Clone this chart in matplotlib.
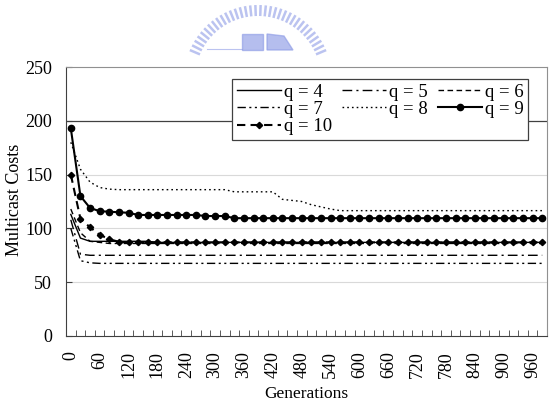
import numpy as np
import matplotlib
matplotlib.use("Agg")
import matplotlib.pyplot as plt
from matplotlib.patches import Rectangle, Polygon

plt.rcParams['font.family'] = ['Liberation Serif', 'DejaVu Serif']

generations = list(range(0, 1000, 20))
tick_labels = [str(g) if g % 60 == 0 else "" for g in generations]

q4 = [113, 91, 88, 88, 88, 88, 88, 88, 88, 87, 87, 87, 87, 87, 87, 87, 87, 87, 87, 87,
      87, 87, 87, 87, 87, 87, 87, 87, 87, 87, 87, 87, 87, 87, 87, 87, 87, 87, 87, 87,
      87, 87, 87, 87, 87, 87, 87, 87, 87, 87]
q5 = [108, 76, 75, 75, 75, 75, 75, 75, 75, 75, 75, 75, 75, 75, 75, 75, 75, 75, 75, 75,
      75, 75, 75, 75, 75, 75, 75, 75, 75, 75, 75, 75, 75, 75, 75, 75, 75, 75, 75, 75,
      75, 75, 75, 75, 75, 75, 75, 75, 75, 75]
q6 = [118, 96, 88, 87, 86, 86, 86, 86, 86, 86, 86, 86, 86, 86, 86, 86, 86, 86, 86, 86,
      86, 86, 86, 86, 86, 86, 86, 86, 86, 86, 86, 86, 86, 86, 86, 86, 86, 86, 86, 86,
      86, 86, 86, 86, 86, 86, 86, 86, 86, 86]
q7 = [100, 70, 68, 67.5, 67.5, 67.5, 67.5, 67.5, 67.5, 67.5, 67.5, 67.5, 67.5, 67.5, 67.5, 67.5, 67.5, 67.5, 67.5, 67.5,
      67.5, 67.5, 67.5, 67.5, 67.5, 67.5, 67.5, 67.5, 67.5, 67.5, 67.5, 67.5, 67.5, 67.5, 67.5, 67.5, 67.5, 67.5, 67.5, 67.5,
      67.5, 67.5, 67.5, 67.5, 67.5, 67.5, 67.5, 67.5, 67.5, 67.5]
q8 = [180, 155, 143, 138, 136.5, 136, 136, 136, 136, 136, 136, 136, 136, 136, 136, 136, 136, 134, 134, 134,
      134, 134, 127, 126, 125, 122, 120, 118, 116.5, 116.5, 116.5, 116.5, 116.5, 116.5, 116.5, 116.5, 116.5, 116.5, 116.5, 116.5,
      116.5, 116.5, 116.5, 116.5, 116.5, 116.5, 116.5, 116.5, 116.5, 116.5]
q9 = [193, 130, 119, 116, 115.5, 115, 114.5, 112.5, 112.5, 112.5, 112.5, 112.5, 112.5, 112.5, 111.5, 111.5, 111.5, 109.5, 109.5, 109.5,
      109.5, 109.5, 109.5, 109.5, 109.5, 109.5, 109.5, 109.5, 109.5, 109.5, 109.5, 109.5, 109.5, 109.5, 109.5, 109.5, 109.5, 109.5, 109.5, 109.5,
      109.5, 109.5, 109.5, 109.5, 109.5, 109.5, 109.5, 109.5, 109.5, 109.5]
q10 = [150, 109, 101, 94, 90, 87.5, 87, 87, 87, 87, 87, 87, 87, 87, 87, 87, 87, 87, 87, 87,
       87, 87, 87, 87, 87, 87, 87, 87, 87, 87, 87, 87, 87, 87, 87, 87, 87, 87, 87, 87,
       87, 87, 87, 87, 87, 87, 87, 87, 87, 87]

fig = plt.figure(figsize=(5.49, 4.16), dpi=100)
ax = fig.add_axes([66/549, 80/416, 481/549, 269/416])

x = np.arange(len(generations))

# gridlines
for yv in [50, 100, 150]:
    ax.axhline(yv, color='#d9d9d9', lw=0.8, zorder=0)
ax.axhline(200, color='#404040', lw=0.9, zorder=0)

h4, = ax.plot(x, q4, color='black', lw=1.0, ls='-', label='q = 4')
h5, = ax.plot(x, q5, color='black', lw=1.0, ls=(0, (7, 3, 1.5, 3)), label='q = 5')
h6, = ax.plot(x, q6, color='black', lw=1.0, ls=(0, (4, 2.5)), label='q = 6')
h7, = ax.plot(x, q7, color='black', lw=1.0, ls=(0, (6, 2.5, 1.5, 2.5, 1.5, 2.5)), label='q = 7')
h8, = ax.plot(x, q8, color='black', lw=1.0, ls=(0, (1.2, 2.2)), label='q = 8')
h9, = ax.plot(x, q9, color='black', lw=1.5, ls='-', marker='o', ms=4.5, label='q = 9')
h10, = ax.plot(x, q10, color='black', lw=1.5, ls=(0, (4, 2.5)), marker='D', ms=3.2, label='q = 10')

ax.set_xlim(-0.5, len(generations) - 0.5)
ax.set_ylim(0, 250)
ax.set_yticks([0, 50, 100, 150, 200, 250])
ax.tick_params(axis='y', direction='in', length=4, labelsize=13, pad=10, color='#404040')

ax.set_xticks(x)
ax.set_xticklabels(tick_labels, rotation=90, fontsize=13)
ax.tick_params(axis='x', which='major', length=0, pad=11)
ax.set_xticks(np.arange(-0.5, len(generations) + 0.5, 1), minor=True)
ax.tick_params(axis='x', which='minor', direction='in', length=4, color='#404040')

for side in ['top', 'right']:
    ax.spines[side].set_color('#909090')
for side in ['left', 'bottom']:
    ax.spines[side].set_color('#404040')

fig.text(306.5 / 549, 1 - 394 / 416, 'Generations', fontsize=12.5, ha='center', va='center')
fig.text(15 / 549, 1 - 200 / 416, 'Multicast Costs', fontsize=13, ha='center', va='center',
         rotation=90)

handles = [h4, h7, h10, h5, h8, h6, h9]
leg = ax.legend(handles=handles, ncol=3, loc='upper left', bbox_to_anchor=(0.345, 0.955),
                borderaxespad=0, fontsize=13.5, frameon=True, fancybox=False, edgecolor='#404040',
                handlelength=2.35, handletextpad=0.16, columnspacing=0.53,
                labelspacing=0.0, borderpad=0.25, framealpha=1)
leg.get_frame().set_linewidth(0.9)

# faint watermark logo at top
cx, cy, r0, r1 = 258, 79, 63, 74
for ang in np.linspace(23, 157, 34):
    a = np.deg2rad(ang)
    x0, y0 = cx + r0 * np.cos(a), cy - r0 * np.sin(a)
    x1, y1 = cx + r1 * np.cos(a), cy - r1 * np.sin(a)
    fig.add_artist(plt.Line2D([x0 / 549, x1 / 549], [1 - y0 / 416, 1 - y1 / 416],
                              color='#8e9ce6', lw=1.8, alpha=0.6, solid_capstyle='butt'))
fig.add_artist(plt.Line2D([207 / 549, 242 / 549], [1 - 49 / 416, 1 - 49 / 416],
                          color='#8e9ce6', lw=0.8, alpha=0.6))
fig.add_artist(Rectangle((242 / 549, 1 - 50 / 416), 21 / 549, 16 / 416, color='#8e9ce6', alpha=0.65))
fig.add_artist(Polygon([(267 / 549, 1 - 50 / 416), (293 / 549, 1 - 50 / 416), (284 / 549, 1 - 36 / 416),
                        (267 / 549, 1 - 34 / 416)], closed=True, color='#8e9ce6', alpha=0.65))

fig.savefig('out.png', dpi=100)
